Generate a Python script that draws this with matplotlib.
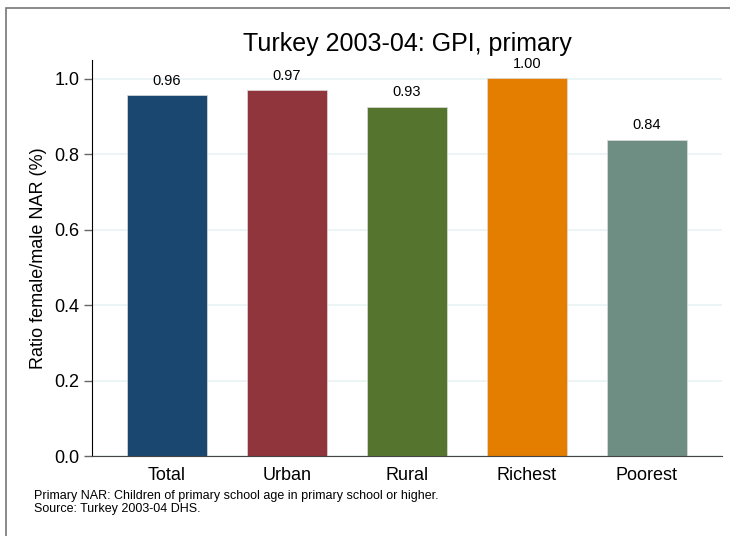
import matplotlib
matplotlib.use("Agg")
import matplotlib.pyplot as plt
from matplotlib.patches import Rectangle

plt.rcParams['font.family'] = ['Liberation Sans', 'DejaVu Sans']

# data
groups = ['Total', 'Urban', 'Rural', 'Richest', 'Poorest']
gpi = [0.956, 0.970, 0.926, 1.002, 0.838]
colors = ['#1a476f', '#90353b', '#55752f', '#e37e00', '#6e8e84']
yticks = [0.0, 0.2, 0.4, 0.6, 0.8, 1.0]

fig = plt.figure(figsize=(7.3, 5.36), dpi=100)
ax = fig.add_axes([0.126, 0.149, 0.863, 0.739])

# outer frame (only top and left edges are inside the picture)
fig.patches.append(Rectangle((6 / 730, -0.2), 1.2, 1 - 8 / 536 + 0.2,
                             transform=fig.transFigure, fill=False,
                             edgecolor='#777777', linewidth=1.2))

x = range(len(groups))
bars = ax.bar(x, gpi, width=0.667, color=colors, edgecolor='#dddddd',
              linewidth=0.5, zorder=2)
for b, v in zip(bars, gpi):
    ax.text(b.get_x() + b.get_width() / 2, v + 0.02, f'{v:.2f}',
            ha='center', va='bottom', fontsize=10.5)

ax.set_xlim(-0.625, 4.625)
ax.set_ylim(0, 1.05)
ax.set_xticks(list(x))
ax.set_xticklabels(groups, fontsize=13)
ax.set_yticks(yticks)
ax.set_yticklabels([f'{t:.1f}' for t in yticks], fontsize=13)
ax.tick_params(axis='x', length=0, pad=8)
ax.tick_params(axis='y', length=6, width=1.0, color='#666666', pad=3)
ax.yaxis.grid(True, color='#eaf2f3', linewidth=1.2, zorder=0)
ax.set_axisbelow(True)

for s in ['top', 'right']:
    ax.spines[s].set_visible(False)
ax.spines['left'].set_color('black')
ax.spines['bottom'].set_color('#444444')

ax.set_ylabel('Ratio female/male NAR (%)', fontsize=13, labelpad=5)
fig.text(407 / 730, 1 - 44 / 536, 'Turkey 2003-04: GPI, primary',
         fontsize=18, ha='center', va='center')

fig.text(34 / 730, 1 - 496 / 536, 'Primary NAR: Children of primary school age in primary school or higher.',
         fontsize=9, va='center')
fig.text(34 / 730, 1 - 509 / 536, 'Source: Turkey 2003-04 DHS.', fontsize=9, va='center')

fig.savefig('out.png', dpi=100)
